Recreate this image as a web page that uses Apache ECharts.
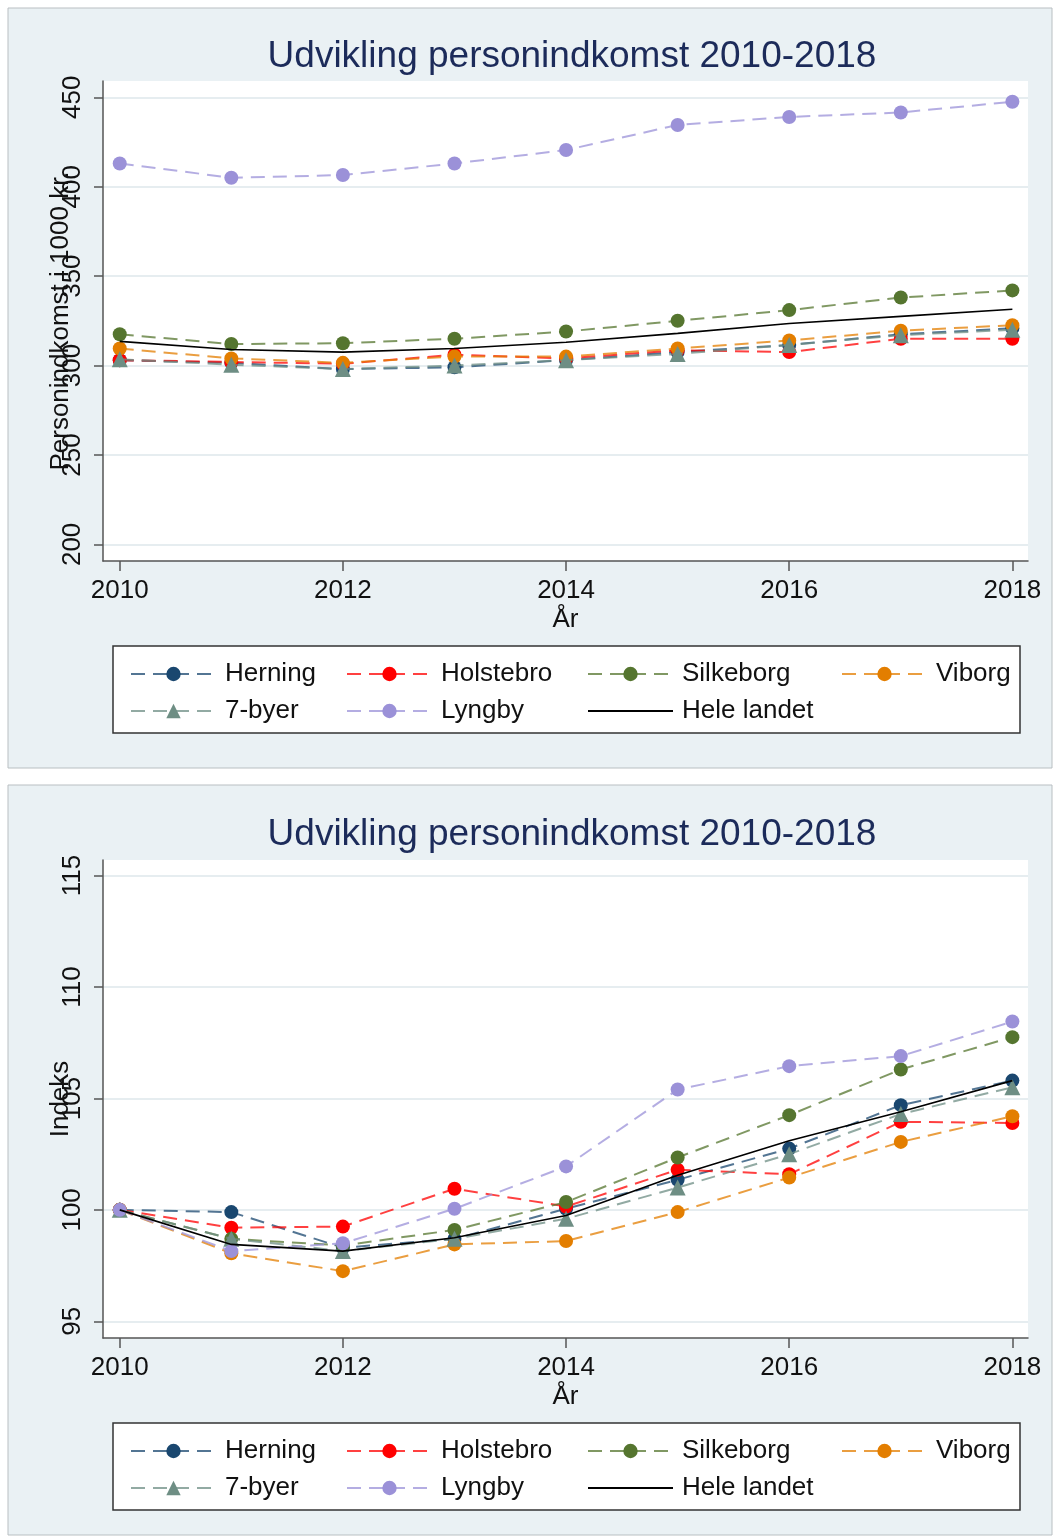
<!DOCTYPE html>
<html>
<head>
<meta charset="utf-8">
<script src="https://cdn.jsdelivr.net/npm/echarts@6/dist/echarts.min.js"></script>
<style>
  html, body { margin: 0; padding: 0; background: #fff; }
  #main { width: 1054px; height: 1537px; }
</style>
</head>
<body>
<div id="main"></div>
<script>
// data
var years = [2010, 2011, 2012, 2013, 2014, 2015, 2016, 2017, 2018];
var names = ['Herning', 'Holstebro', 'Silkeborg', 'Viborg', '7-byer', 'Lyngby', 'Hele landet'];

// personindkomst i 1000 kr.
var herningAbs   = [303, 301.5, 298, 299, 303, 307.5, 311.5, 317.5, 320.8];
var holstebroAbs = [303, 302, 301, 306, 304, 308.5, 307.5, 315, 315];
var silkeborgAbs = [317.5, 312, 312.5, 315, 319, 325, 331, 338, 342];
var viborgAbs    = [309.5, 304, 301.5, 305, 305, 309.5, 314, 319.5, 322.5];
var byerAbs      = [303.5, 300.5, 298, 300, 303, 306.5, 311.5, 317, 320];
var lyngbyAbs    = [413, 405, 406.5, 413, 420.5, 434.5, 439, 441.5, 447.5];
var heleAbs      = [313.5, 309, 307.5, 309.5, 313, 318, 323.5, 327.5, 331.5];

// indeks (2010 = 100)
var herningIdx   = [100, 99.9, 98.3, 98.7, 100.05, 101.35, 102.75, 104.7, 105.8];
var holstebroIdx = [100, 99.2, 99.25, 100.95, 100.15, 101.8, 101.6, 103.95, 103.9];
var silkeborgIdx = [100, 98.7, 98.4, 99.1, 100.35, 102.35, 104.25, 106.3, 107.75];
var viborgIdx    = [100, 98.05, 97.25, 98.45, 98.6, 99.9, 101.45, 103.05, 104.2];
var byerIdx      = [100, 98.7, 98.15, 98.7, 99.6, 101.0, 102.5, 104.3, 105.5];
var lyngbyIdx    = [100, 98.15, 98.5, 100.05, 101.95, 105.4, 106.45, 106.9, 108.45];
var heleIdx      = [100, 98.45, 98.15, 98.75, 99.75, 101.55, 103.1, 104.4, 105.8];

var xTicks = [2010, 2012, 2014, 2016, 2018];
var yTicksAbs = [200, 250, 300, 350, 400, 450];
var yTicksIdx = [95, 100, 105, 110, 115];

var colors  = ['#1a476f', '#ff0000', '#55752f', '#e37e00', '#6e8e84', '#9b91d8', '#000000'];
var symbols = ['circle', 'circle', 'circle', 'circle', 'triangle', 'circle', 'none'];

var FONT = '"Liberation Sans", Arial, sans-serif';
var TITLE = 'Udvikling personindkomst 2010-2018';

var myChart = echarts.init(document.getElementById('main'));

function pairs(vals) {
    return years.map(function (y, i) { return [y, vals[i]]; });
}

function makeSeries(setList, gi) {
    return setList.map(function (vals, i) {
        var solid = symbols[i] === 'none';
        return {
            name: names[i],
            type: 'line',
            xAxisIndex: gi,
            yAxisIndex: gi,
            data: pairs(vals),
            symbol: symbols[i],
            symbolSize: symbols[i] === 'triangle' ? 16 : 14,
            showSymbol: !solid,
            z: 2 + i,
            itemStyle: { color: colors[i], opacity: 1 },
            lineStyle: solid
                ? { color: '#000', width: 1.6, type: 'solid' }
                : { color: colors[i], width: 2, type: [14, 8], opacity: 0.75 },
            emphasis: { disabled: true },
            animation: false
        };
    });
}

function xAxisFor(gi) {
    return {
        type: 'value', gridIndex: gi, min: 2009.85, max: 2018.14,
        name: 'År', nameLocation: 'middle', nameGap: 46, nameMoveOverlap: false,
        nameTextStyle: { fontFamily: FONT, fontSize: 26, color: '#111' },
        axisLine: { show: true, lineStyle: { color: '#555', width: 1.5 } },
        axisTick: { show: true, length: 10, customValues: xTicks, lineStyle: { color: '#555', width: 1.5 } },
        axisLabel: { customValues: xTicks, margin: 17, fontFamily: FONT, fontSize: 26, color: '#111',
                     formatter: function (v) { return String(v); } },
        splitLine: { show: false }
    };
}

function yAxisFor(gi, mn, mx, ticks, title) {
    return {
        type: 'value', gridIndex: gi, min: mn, max: mx,
        name: title, nameLocation: 'middle', nameGap: 29, nameRotate: 90, nameMoveOverlap: false,
        nameTextStyle: { fontFamily: FONT, fontSize: 26, color: '#111' },
        axisLine: { show: true, lineStyle: { color: '#555', width: 1.5 } },
        axisTick: { show: true, length: 9, customValues: ticks, lineStyle: { color: '#555', width: 1.5 } },
        axisLabel: { customValues: ticks, rotate: 90, margin: 17, fontFamily: FONT, fontSize: 26, color: '#111',
                     formatter: function (v) { return String(v); } },
        splitLine: { show: true, lineStyle: { color: '#e6edf0', width: 2 } }
    };
}

// legend columns, laid out like the original (2 rows)
var legendCols = [[0, 4], [1, 5], [2, 6], [3]];
var legendLeft = [125, 341, 582, 836];
function legendsFor(top) {
    return legendCols.map(function (col, c) {
        return {
            orient: 'vertical', left: legendLeft[c], top: top,
            data: col.map(function (k) {
                // the national line has no marker
                return symbols[k] === 'none'
                    ? { name: names[k], itemStyle: { opacity: 0 } }
                    : names[k];
            }),
            itemWidth: 85, itemHeight: 18, itemGap: 11,
            selectedMode: false,
            textStyle: { fontFamily: FONT, fontSize: 26, color: '#111', padding: [0, 0, 0, 4] }
        };
    });
}

function panelRects(y, h, legendY) {
    return [
        { type: 'rect', z: -10, shape: { x: 8, y: y, width: 1044, height: h },
          style: { fill: '#eaf1f4', stroke: '#b9bfc2', lineWidth: 1 } },
        { type: 'rect', z: -5, shape: { x: 113, y: legendY, width: 907, height: 87 },
          style: { fill: '#ffffff', stroke: '#333', lineWidth: 1.5 } }
    ];
}

var option = {
    backgroundColor: '#ffffff',
    animation: false,
    graphic: panelRects(8, 760, 646).concat(panelRects(785, 750, 1423)),
    title: [
        { text: TITLE, left: 567, top: 33, textAlign: 'center',
          textStyle: { fontFamily: FONT, fontSize: 37, fontWeight: 'normal', color: '#1c2b5a' } },
        { text: TITLE, left: 567, top: 811, textAlign: 'center',
          textStyle: { fontFamily: FONT, fontSize: 37, fontWeight: 'normal', color: '#1c2b5a' } }
    ],
    grid: [
        { left: 103, top: 81, width: 925, height: 480, show: true, backgroundColor: '#fff', borderWidth: 0 },
        { left: 103, top: 860, width: 925, height: 478, show: true, backgroundColor: '#fff', borderWidth: 0 }
    ],
    xAxis: [xAxisFor(0), xAxisFor(1)],
    yAxis: [
        yAxisFor(0, 190.7, 459.1, yTicksAbs, 'Personindkomst i 1000 kr.'),
        yAxisFor(1, 94.25, 115.7, yTicksIdx, 'Indeks')
    ],
    legend: legendsFor(656).concat(legendsFor(1433)),
    series: makeSeries([herningAbs, holstebroAbs, silkeborgAbs, viborgAbs, byerAbs, lyngbyAbs, heleAbs], 0)
        .concat(makeSeries([herningIdx, holstebroIdx, silkeborgIdx, viborgIdx, byerIdx, lyngbyIdx, heleIdx], 1))
};

myChart.setOption(option);
</script>
</body>
</html>
